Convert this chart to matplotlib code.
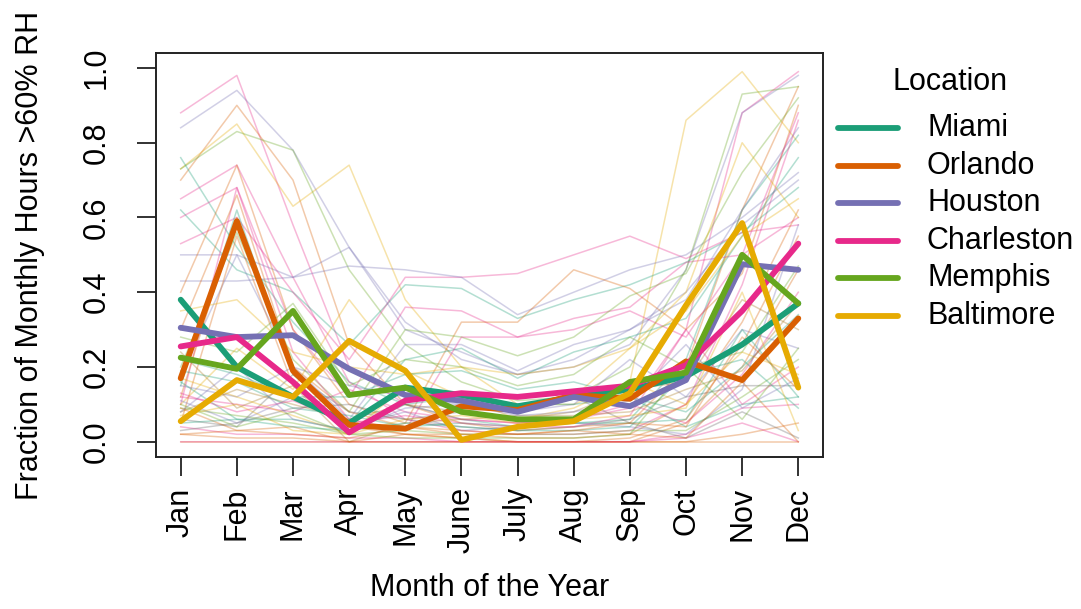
import matplotlib
matplotlib.use("Agg")
import matplotlib.pyplot as plt
from matplotlib.lines import Line2D

plt.rcParams['font.family'] = ['Liberation Sans', 'DejaVu Sans']

months = ["Jan", "Feb", "Mar", "Apr", "May", "June", "July", "Aug", "Sep", "Oct", "Nov", "Dec"]
locations = ["Miami", "Orlando", "Houston", "Charleston", "Memphis", "Baltimore"]
loc_colors = ["#1B9E77", "#D95F02", "#7570B3", "#E7298A", "#66A61E", "#E6AB02"]

miami      = [0.38, 0.20, 0.12, 0.05, 0.145, 0.125, 0.095, 0.12, 0.14, 0.175, 0.26, 0.37]
orlando    = [0.17, 0.59, 0.19, 0.045, 0.035, 0.095, 0.085, 0.125, 0.115, 0.215, 0.165, 0.33]
houston    = [0.305, 0.28, 0.285, 0.195, 0.125, 0.11, 0.08, 0.12, 0.095, 0.165, 0.475, 0.46]
charleston = [0.255, 0.28, 0.16, 0.025, 0.11, 0.13, 0.12, 0.135, 0.15, 0.205, 0.35, 0.53]
memphis    = [0.225, 0.195, 0.35, 0.125, 0.145, 0.08, 0.06, 0.06, 0.16, 0.185, 0.50, 0.37]
baltimore  = [0.055, 0.165, 0.12, 0.27, 0.19, 0.005, 0.04, 0.055, 0.13, 0.365, 0.585, 0.145]
main_series = [miami, orlando, houston, charleston, memphis, baltimore]

# other locations (faint background lines)
bg_values = [
    [0.88, 0.98, 0.58, 0.20, 0.10, 0.06, 0.05, 0.06, 0.09, 0.30, 0.88, 0.99],
    [0.84, 0.94, 0.78, 0.52, 0.32, 0.22, 0.18, 0.20, 0.26, 0.46, 0.88, 0.98],
    [0.70, 0.90, 0.70, 0.26, 0.10, 0.05, 0.03, 0.04, 0.05, 0.20, 0.62, 0.95],
    [0.73, 0.85, 0.63, 0.74, 0.38, 0.20, 0.10, 0.10, 0.16, 0.86, 0.99, 0.80],
    [0.73, 0.83, 0.78, 0.46, 0.26, 0.16, 0.11, 0.12, 0.20, 0.46, 0.93, 0.95],
    [0.76, 0.52, 0.32, 0.16, 0.10, 0.06, 0.04, 0.05, 0.06, 0.22, 0.62, 0.82],
    [0.65, 0.74, 0.44, 0.16, 0.06, 0.03, 0.02, 0.02, 0.03, 0.10, 0.42, 0.86],
    [0.62, 0.46, 0.40, 0.26, 0.42, 0.41, 0.33, 0.38, 0.42, 0.48, 0.56, 0.68],
    [0.53, 0.60, 0.40, 0.22, 0.44, 0.44, 0.45, 0.50, 0.55, 0.49, 0.56, 0.58],
    [0.50, 0.50, 0.44, 0.52, 0.30, 0.24, 0.18, 0.22, 0.30, 0.40, 0.58, 0.70],
    [0.43, 0.43, 0.44, 0.47, 0.46, 0.44, 0.34, 0.40, 0.46, 0.50, 0.60, 0.72],
    [0.60, 0.68, 0.30, 0.12, 0.36, 0.35, 0.28, 0.33, 0.36, 0.48, 0.50, 0.60],
    [0.40, 0.74, 0.30, 0.10, 0.05, 0.32, 0.32, 0.46, 0.41, 0.30, 0.45, 0.90],
    [0.20, 0.56, 0.22, 0.08, 0.30, 0.28, 0.23, 0.28, 0.39, 0.45, 0.72, 0.92],
    [0.18, 0.50, 0.20, 0.06, 0.26, 0.26, 0.19, 0.26, 0.30, 0.38, 0.62, 0.84],
    [0.15, 0.62, 0.18, 0.05, 0.22, 0.25, 0.17, 0.24, 0.28, 0.33, 0.55, 0.76],
    [0.10, 0.68, 0.24, 0.06, 0.03, 0.28, 0.28, 0.30, 0.35, 0.28, 0.50, 0.88],
    [0.30, 0.66, 0.20, 0.08, 0.04, 0.02, 0.01, 0.01, 0.02, 0.10, 0.32, 0.62],
    [0.12, 0.60, 0.18, 0.05, 0.02, 0.01, 0.00, 0.00, 0.01, 0.06, 0.26, 0.55],
    [0.05, 0.55, 0.15, 0.04, 0.02, 0.01, 0.00, 0.00, 0.00, 0.05, 0.20, 0.46],
    [0.35, 0.38, 0.24, 0.20, 0.18, 0.20, 0.18, 0.20, 0.25, 0.35, 0.55, 0.65],
    [0.28, 0.24, 0.37, 0.15, 0.22, 0.20, 0.15, 0.18, 0.28, 0.20, 0.24, 0.47],
    [0.10, 0.25, 0.14, 0.38, 0.19, 0.12, 0.10, 0.12, 0.25, 0.40, 0.80, 0.60],
    [0.22, 0.18, 0.12, 0.12, 0.18, 0.19, 0.14, 0.16, 0.12, 0.08, 0.20, 0.34],
    [0.15, 0.12, 0.20, 0.15, 0.12, 0.10, 0.08, 0.10, 0.22, 0.12, 0.30, 0.25],
    [0.12, 0.10, 0.08, 0.14, 0.08, 0.06, 0.05, 0.06, 0.10, 0.05, 0.18, 0.40],
    [0.08, 0.14, 0.10, 0.06, 0.10, 0.08, 0.06, 0.08, 0.14, 0.16, 0.38, 0.30],
    [0.06, 0.04, 0.18, 0.08, 0.06, 0.04, 0.03, 0.04, 0.06, 0.12, 0.15, 0.15],
    [0.16, 0.06, 0.06, 0.03, 0.10, 0.12, 0.10, 0.10, 0.12, 0.04, 0.10, 0.12],
    [0.04, 0.02, 0.02, 0.01, 0.01, 0.00, 0.00, 0.00, 0.00, 0.02, 0.09, 0.10],
    [0.02, 0.01, 0.01, 0.00, 0.00, 0.00, 0.00, 0.00, 0.00, 0.00, 0.02, 0.05],
    [0.00, 0.00, 0.00, 0.00, 0.00, 0.00, 0.00, 0.00, 0.00, 0.00, 0.00, 0.00],
    [0.00, 0.00, 0.00, 0.00, 0.00, 0.00, 0.00, 0.00, 0.00, 0.01, 0.05, 0.00],
    [0.09, 0.07, 0.05, 0.02, 0.03, 0.02, 0.02, 0.02, 0.03, 0.03, 0.12, 0.22],
    [0.11, 0.05, 0.12, 0.04, 0.08, 0.03, 0.04, 0.05, 0.04, 0.02, 0.14, 0.58],
    [0.07, 0.10, 0.03, 0.02, 0.15, 0.12, 0.06, 0.09, 0.16, 0.10, 0.24, 0.18],
    [0.19, 0.16, 0.09, 0.07, 0.04, 0.05, 0.04, 0.05, 0.05, 0.06, 0.30, 0.12],
    [0.03, 0.05, 0.09, 0.10, 0.06, 0.08, 0.10, 0.12, 0.05, 0.01, 0.08, 0.01],
    [0.24, 0.09, 0.15, 0.00, 0.05, 0.06, 0.07, 0.07, 0.08, 0.14, 0.19, 0.37],
    [0.09, 0.03, 0.04, 0.00, 0.02, 0.02, 0.02, 0.03, 0.02, 0.01, 0.16, 0.00],
    [0.13, 0.08, 0.11, 0.05, 0.07, 0.05, 0.04, 0.04, 0.07, 0.30, 0.10, 0.20],
    [0.05, 0.06, 0.04, 0.03, 0.05, 0.04, 0.03, 0.03, 0.04, 0.18, 0.22, 0.09],
    [0.17, 0.12, 0.07, 0.02, 0.06, 0.07, 0.05, 0.06, 0.07, 0.09, 0.40, 0.03],
    [0.08, 0.20, 0.06, 0.03, 0.09, 0.10, 0.07, 0.08, 0.11, 0.26, 0.09, 0.17],
    [0.02, 0.03, 0.02, 0.01, 0.04, 0.03, 0.02, 0.03, 0.05, 0.04, 0.28, 0.14],
    [0.10, 0.04, 0.08, 0.02, 0.01, 0.01, 0.01, 0.01, 0.02, 0.20, 0.06, 0.25],
]
bg_colors = [
    "#E7298A", "#7570B3", "#D95F02", "#E6AB02", "#66A61E", "#1B9E77", "#E7298A", "#1B9E77",
    "#E7298A", "#7570B3", "#7570B3", "#E7298A", "#D95F02", "#66A61E", "#7570B3", "#1B9E77",
    "#E7298A", "#D95F02", "#D95F02", "#D95F02", "#E6AB02", "#66A61E", "#E6AB02", "#1B9E77",
    "#7570B3", "#E7298A", "#A6761D", "#666666", "#1B9E77", "#E7298A", "#D95F02", "#D95F02",
    "#E7298A", "#66A61E", "#7570B3", "#E6AB02", "#1B9E77", "#666666", "#A6761D", "#D95F02",
    "#E7298A", "#1B9E77", "#E6AB02", "#7570B3", "#D95F02", "#66A61E",
]

W, H = 1081, 609
fig = plt.figure(figsize=(W / 100, H / 100), dpi=100)
L, R, T, B = 156, 823, 53, 456.7
ax = fig.add_axes([L / W, 1 - B / H, (R - L) / W, (B - T) / H])

x = list(range(1, 13))
for vals, c in zip(bg_values, bg_colors):
    ax.plot(x, vals, color=c, alpha=0.33, lw=1.1, solid_joinstyle='round')

for vals, c in zip(main_series, loc_colors):
    ax.plot(x, vals, color=c, lw=4.2, solid_capstyle='round', solid_joinstyle='round')

ax.set_xlim(0.56, 12.44)
ax.set_ylim(-0.04, 1.04)
ax.set_xticks(x)
ax.set_xticklabels(months, rotation=90, fontsize=22)
yt = [0.0, 0.2, 0.4, 0.6, 0.8, 1.0]
ax.set_yticks(yt)
ax.set_yticklabels([f"{v:.1f}" for v in yt], rotation=90, va='center', fontsize=22)
ax.tick_params(axis='both', length=14, width=1.3, color='#222222')
ax.tick_params(axis='x', pad=8)
ax.tick_params(axis='y', pad=18)
for s in ax.spines.values():
    s.set_linewidth(1.4)
    s.set_color('#222222')

fig.text(30 / W, 1 - 255 / H, "Fraction of Monthly Hours >60% RH", rotation=90,
         ha='center', va='center', fontsize=22)
fig.text(489.5 / W, 1 - 588 / H, "Month of the Year", ha='center', va='center', fontsize=22)

# legend
fig.text(950 / W, 1 - 82 / H, "Location", ha='center', va='center', fontsize=22)
rows = [128, 166, 203, 241, 278, 316]
for yy, name, c in zip(rows, locations, loc_colors):
    fig.add_artist(Line2D([838 / W, 898 / W], [1 - yy / H, 1 - yy / H], color=c, lw=4.2,
                          solid_capstyle='round', transform=fig.transFigure))
    fig.text(927 / W, 1 - yy / H, name, ha='left', va='center', fontsize=22)

fig.savefig("out.png", dpi=100)
